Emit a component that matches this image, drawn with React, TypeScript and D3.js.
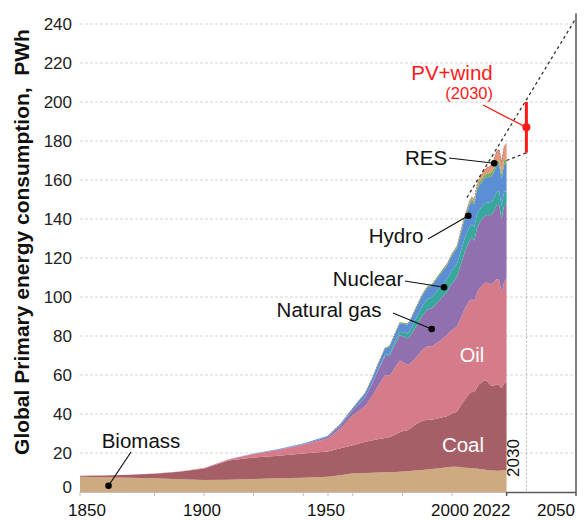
import React from "react";
import * as d3 from "d3";

const years = [1850,1860,1870,1880,1890,1900,1910,1920,1930,1940,1950,1955,1960,1965,1968,1970,1973,1974,1975,1977,1979,1980,1982,1983,1985,1988,1990,1992,1995,1998,2000,2002,2003,2005,2007,2008,2009,2010,2011,2013,2014,2015,2016,2017,2018,2019,2020,2021,2022];
const biomass = [7.8,7.6,7.3,7.0,6.6,6.2,6.3,6.7,7.0,7.3,7.8,8.6,9.6,9.8,9.9,10.0,10.1,10.2,10.2,10.3,10.4,10.5,10.7,10.8,11.0,11.3,11.5,11.8,12.2,12.7,13.0,12.9,12.8,12.5,12.3,12.2,12.1,12.0,11.8,11.5,11.3,11.1,11.0,11.0,10.9,10.9,11.0,11.1,11.3];
const coal = [0.5,0.9,1.5,2.4,3.8,5.8,9.8,11.0,11.6,12.4,13.0,13.8,14.4,16.0,16.6,17.0,17.6,17.7,18.0,19.0,20.3,20.6,21.0,21.6,23.4,25.2,25.6,25.2,25.8,26.2,27.2,28.3,30.5,34.5,38.2,39.2,39.0,41.4,43.6,45.6,45.8,44.4,43.4,43.6,44.3,43.8,42.2,44.6,44.9];
const oil = [0,0,0,0.05,0.15,0.3,0.6,1.8,3.0,4.5,6.7,10.2,15.3,18.2,23.0,26.8,32.3,31.8,31.6,34.5,36.8,35.6,33.6,33.4,33.9,36.3,37.6,37.8,39.4,41.6,42.9,43.6,44.4,46.6,47.6,47.4,46.8,48.4,48.9,50.0,50.4,51.4,52.3,53.2,53.9,54.1,49.1,52.0,53.3];
const gas = [0,0,0,0,0,0,0.05,0.1,0.2,0.3,0.8,1.5,2.6,4.5,6.5,8.0,9.8,10.1,10.5,11.8,13.0,13.2,13.5,14.0,15.5,17.5,18.8,19.5,21.0,22.2,24.0,25.3,26.6,28.8,30.8,31.7,31.0,33.2,33.7,34.3,34.5,35.0,35.6,36.6,38.0,38.6,37.8,39.3,38.0];
const nuclear = [0,0,0,0,0,0,0,0,0,0,0,0,0.01,0.1,0.15,0.25,0.6,0.75,1.0,1.4,1.8,2.0,2.4,2.8,4.0,5.0,5.4,5.7,6.2,6.5,6.8,7.0,6.9,7.2,7.1,7.0,6.9,7.1,6.7,6.3,6.4,6.5,6.5,6.6,6.7,6.9,6.7,7.0,6.7];
const hydro = [0,0,0,0,0,0.03,0.08,0.15,0.25,0.4,0.5,0.7,1.0,2.0,2.5,2.8,3.2,3.4,3.6,3.9,4.2,4.4,4.6,4.8,5.0,5.4,5.7,5.9,6.6,7.0,7.4,8.0,8.6,10.0,11.0,11.6,11.7,12.3,12.5,12.9,13.1,13.0,13.3,13.4,13.6,13.6,14.0,13.8,14.2];
const otherRes = [0,0,0,0,0,0,0,0,0,0,0.1,0.1,0.15,0.2,0.2,0.25,0.3,0.3,0.3,0.35,0.4,0.4,0.45,0.45,0.5,0.55,0.6,0.62,0.7,0.75,0.8,0.85,0.9,1.0,1.2,1.3,1.4,1.5,1.6,1.8,1.9,2.0,2.05,2.1,2.2,2.2,2.3,2.3,2.3];
const windSolar = [0,0,0,0,0,0,0,0,0,0,0,0,0,0,0,0,0,0,0,0,0,0,0,0,0,0,0.03,0.04,0.06,0.1,0.15,0.25,0.3,0.5,0.8,1.0,1.2,1.5,1.9,2.6,3.0,3.4,3.9,4.5,5.1,5.6,6.2,7.1,8.0];

const keys = ["biomass","coal","oil","gas","nuclear","hydro","otherRes","windSolar"];
const colors: Record<string,string> = {
  biomass: "#cdaa7f",
  coal: "#a65f66",
  oil: "#d57b89",
  gas: "#9170b0",
  nuclear: "#38a89c",
  hydro: "#5b8ed5",
  otherRes: "#72b35a",
  windSolar: "#e8957c",
};

const yTicks = [0,20,40,60,80,100,120,140,160,180,200,220,240];
const xTickYears = [1850,1880,1900,1920,1940,1950,1960,1980,2000];
const xLabelYears = [1850,1900,1950,2000,2022,2050];
const xLabelShift = [7,-2,-2,-2,-15,-20];

// projection lines
const trendYears = [2006,2050];
const trendValues = [151,243];
const lowYears = [2022,2030];
const lowValues = [170,174];
const pvYear = 2030;
const pvRange = [174,200];
const pvMid = 187;

// annotations: dot (year,value)
const annYears = [1861.5,1991.8,1996.8,2006.6,2017];
const annValues = [3.2,83.6,105,141.7,168.6];
const annLabels = ["Biomass","Natural gas","Nuclear","Hydro","RES"];

const FONT = "'Liberation Sans', Arial, Helvetica, sans-serif";

export default function App() {
  const W = 588, H = 520;
  const x = d3.scaleLinear().domain([1850, 2050]).range([80, 576]);
  const y = d3.scaleLinear().domain([0, 240]).range([492, 24]);

  const table = years.map((yr, i) => ({
    year: yr, biomass: biomass[i], coal: coal[i], oil: oil[i], gas: gas[i],
    nuclear: nuclear[i], hydro: hydro[i], otherRes: otherRes[i], windSolar: windSolar[i],
  }));
  const series = d3.stack<any>().keys(keys)(table);
  const area = d3.area<any>()
    .x((d) => x(d.data.year))
    .y0((d) => y(d[0]))
    .y1((d) => y(d[1]))
    .curve(d3.curveLinear);
  const topLine = d3.line<any>()
    .x((d) => x(d.data.year))
    .y((d) => y(d[1]))
    .defined((d) => d.data.year >= 1945);
  const last = series[series.length - 1];

  const xEnd = x(2022);
  const xMax = x(2050);

  const annText = [
    { x: 141, y: 448, lx: 131, ly: 452 },
    { x: 329, y: 317, lx: 393, ly: 313 },
    { x: 368, y: 286, lx: 405, ly: 281 },
    { x: 396, y: 243, lx: 428, ly: 239 },
    { x: 426, y: 165, lx: 449, ly: 158 },
  ];

  return (
    <svg width={W} height={H} style={{ position: "absolute", left: 0, top: 0, background: "#fff" }} fontFamily={FONT}>
      {yTicks.filter((t) => t > 0).map((t) => (
        <line key={t} x1={x(1850)} x2={xMax} y1={y(t)} y2={y(t)} stroke="#d4d4d4" strokeWidth={1} strokeDasharray="3,2" />
      ))}
      {yTicks.map((t) => (
        <text key={t} x={72} y={y(t) + (t === 0 ? 1 : 6)} textAnchor="end" fontSize={17} fill="#222">{t}</text>
      ))}

      {series.map((s) => (
        <path key={s.key} d={area(s) || ""} fill={colors[s.key]} stroke="none" />
      ))}
      <path d={topLine(last) || ""} fill="none" stroke="#7a6a58" strokeWidth={0.8} strokeDasharray="2,1" opacity={0.8} />

      <line x1={xMax} x2={xMax} y1={y(245.5)} y2={y(0)} stroke="#7f7f7f" strokeWidth={2} />

      <line x1={x(pvYear)} x2={x(pvYear)} y1={y(pvRange[0])} y2={y(0)} stroke="#b0b0b0" strokeWidth={1} strokeDasharray="2,2" />
      <text transform={`translate(${x(pvYear) - 7},${y(0) - 34}) rotate(-90)`} textAnchor="middle" fontSize={17} fill="#111">2030</text>

      <line x1={x(1850)} x2={xEnd} y1={y(0) + 0.5} y2={y(0) + 0.5} stroke="#bfbfbf" strokeWidth={1} />
      <line x1={xEnd} x2={xMax} y1={y(0) + 0.5} y2={y(0) + 0.5} stroke="#595959" strokeWidth={1.5} />
      {xTickYears.map((t) => (
        <line key={t} x1={x(t)} x2={x(t)} y1={y(0)} y2={y(0) + 4} stroke="#bfbfbf" strokeWidth={1} />
      ))}
      {[2022, 2050].map((t) => (
        <line key={t} x1={x(t)} x2={x(t)} y1={y(0)} y2={y(0) + 4} stroke="#595959" strokeWidth={1.5} />
      ))}
      {xLabelYears.map((t, i) => (
        <text key={t} x={x(t) + xLabelShift[i]} y={516} textAnchor="middle" fontSize={17} fill="#111">{t}</text>
      ))}

      <line x1={x(trendYears[0])} y1={y(trendValues[0])} x2={x(trendYears[1])} y2={y(trendValues[1])} stroke="#333" strokeWidth={1.3} strokeDasharray="3,3" />
      <line x1={x(lowYears[0])} y1={y(lowValues[0])} x2={x(lowYears[1])} y2={y(lowValues[1])} stroke="#333" strokeWidth={1.3} strokeDasharray="3,3" />

      <line x1={x(pvYear)} x2={x(pvYear)} y1={y(pvRange[0])} y2={y(pvRange[1])} stroke="#ff1a1a" strokeWidth={3} />
      <line x1={483} y1={105} x2={x(pvYear)} y2={y(pvMid)} stroke="#ff1a1a" strokeWidth={1.3} />
      <circle cx={x(pvYear)} cy={y(pvMid)} r={4} fill="#ff1a1a" />
      <text x={452} y={80} textAnchor="middle" fontSize={20.5} fill="#ff1a1a">PV+wind</text>
      <text x={493} y={99} textAnchor="end" fontSize={16.5} fill="#ff1a1a">(2030)</text>

      {annLabels.map((lab, i) => (
        <g key={lab}>
          <line x1={annText[i].lx} y1={annText[i].ly} x2={x(annYears[i])} y2={y(annValues[i])} stroke="#111" strokeWidth={1.2} />
          <circle cx={x(annYears[i])} cy={y(annValues[i])} r={3.3} fill="#000" />
          <text x={annText[i].x} y={annText[i].y} textAnchor="middle" fontSize={20.5} fill="#111">{lab}</text>
        </g>
      ))}

      <text x={472} y={362} textAnchor="middle" fontSize={20} fill="#fff">Oil</text>
      <text x={463} y={452} textAnchor="middle" fontSize={20.5} fill="#fff">Coal</text>

      <text transform={`translate(29,242) rotate(-90)`} textAnchor="middle" fontSize={21} fontWeight="bold" fill="#111">
        Global Primary energy consumption,{"\u00a0\u00a0"}PWh
      </text>
    </svg>
  );
}
